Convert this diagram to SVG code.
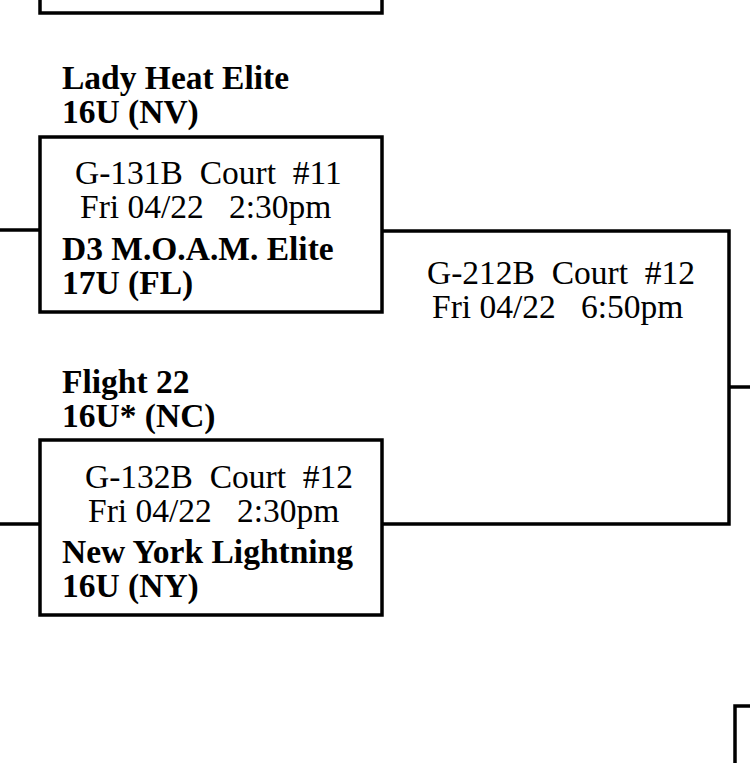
<svg xmlns="http://www.w3.org/2000/svg" width="750" height="763" viewBox="0 0 750 763">
<style>
.box{fill:#fff;stroke:#000;stroke-width:3.5}
.ln{fill:none;stroke:#000;stroke-width:3.5}
text{font-family:"Liberation Serif","Times New Roman",serif;font-size:33.5px;fill:#000;white-space:pre}
.b{font-weight:bold}
</style>
<rect width="750" height="763" fill="#fff"/>
<g id="connectors">
<line class="ln" x1="0" y1="230" x2="40" y2="230"/>
<line class="ln" x1="0" y1="524" x2="40" y2="524"/>
<polyline class="ln" points="382,231 729,231 729,524 382,524"/>
<line class="ln" x1="729" y1="387" x2="750" y2="387"/>
</g>
<g id="node-top">
<polyline class="ln" points="40,-5 40,13 382,13 382,-5"/>
</g>
<g id="team-lady-heat">
<text class="b" x="62" y="89">Lady Heat Elite</text>
<text class="b" x="62" y="123">16U (NV)</text>
</g>
<g id="node-g131b">
<rect class="box" x="40" y="137" width="342" height="175"/>
<text x="75" y="184">G-131B  Court  #11</text>
<text x="80" y="218">Fri 04/22   2:30pm</text>
<text class="b" x="62" y="260">D3 M.O.A.M. Elite</text>
<text class="b" x="62" y="294">17U (FL)</text>
</g>
<g id="team-flight22">
<text class="b" x="62" y="393">Flight 22</text>
<text class="b" x="62" y="427">16U* (NC)</text>
</g>
<g id="node-g132b">
<rect class="box" x="40" y="440" width="342" height="175"/>
<text x="85" y="488">G-132B  Court  #12</text>
<text x="88" y="522">Fri 04/22   2:30pm</text>
<text class="b" x="62" y="563">New York Lightning</text>
<text class="b" x="62" y="597">16U (NY)</text>
</g>
<g id="node-g212b">
<text x="427" y="284">G-212B  Court  #12</text>
<text x="432" y="318">Fri 04/22   6:50pm</text>
</g>
<g id="node-bottom">
<polyline class="ln" points="735,770 735,706 755,706"/>
</g>
</svg>
